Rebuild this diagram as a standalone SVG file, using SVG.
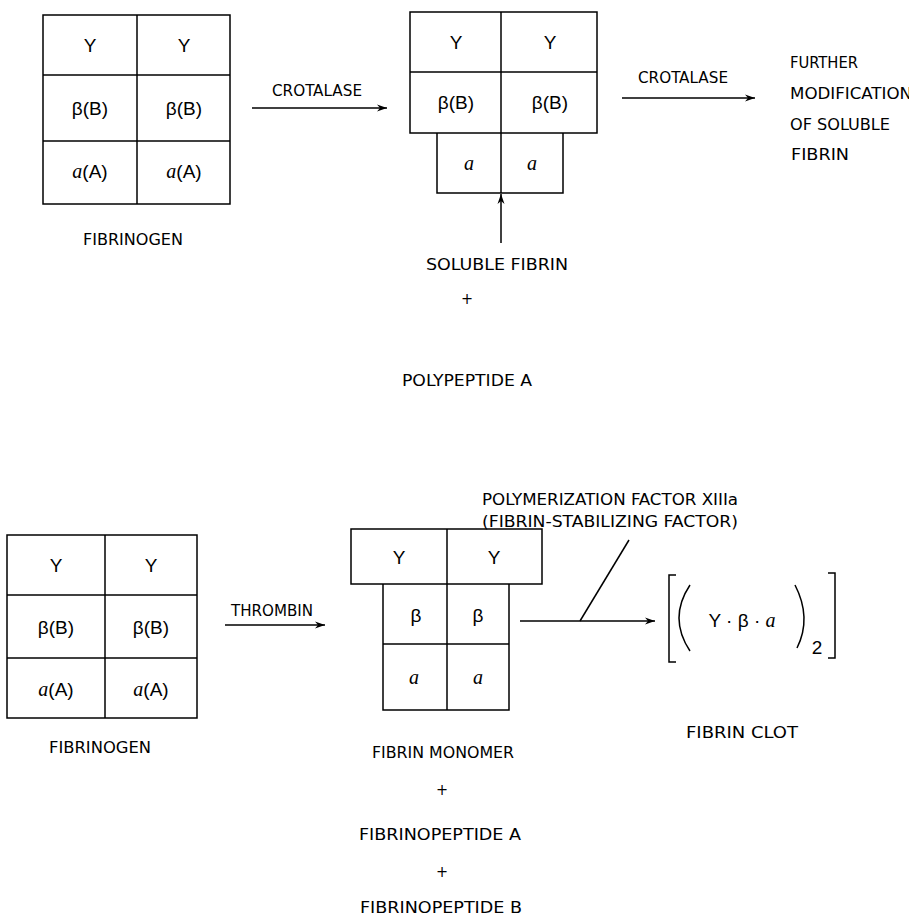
<svg xmlns="http://www.w3.org/2000/svg" width="909" height="917" viewBox="0 0 909 917">
<defs>
<marker id="ah" viewBox="0 0 10 10" refX="10" refY="5" markerWidth="10" markerHeight="10" markerUnits="userSpaceOnUse" orient="auto">
<path d="M0,1.5 L10,5 L0,8.5 L3,5 Z" fill="#000"/>
</marker>
<style>
.bx{fill:none;stroke:#000;stroke-width:1.5}
.ln{fill:none;stroke:#000;stroke-width:1.5}
.cl{font-family:"Liberation Sans",Arial,sans-serif;font-size:19px;text-anchor:middle;fill:#000}
.al{font-family:"Liberation Serif","Times New Roman",serif;font-style:italic;font-size:20px}
.lb{font-family:"DejaVu Sans Condensed","Liberation Sans Narrow","Liberation Sans",sans-serif;font-size:16px;fill:#000;text-anchor:middle}
.ll{font-family:"DejaVu Sans Condensed","Liberation Sans Narrow","Liberation Sans",sans-serif;font-size:16px;fill:#000}
</style>
</defs>
<rect width="909" height="917" fill="#fff"/>

<g id="fibrinogen-top">
<rect class="bx" x="43" y="15" width="187" height="189"/>
<line class="ln" x1="43" y1="75" x2="230" y2="75"/>
<line class="ln" x1="43" y1="141" x2="230" y2="141"/>
<line class="ln" x1="137" y1="15" x2="137" y2="204"/>
<text class="cl" x="90" y="52">Y</text>
<text class="cl" x="184" y="52">Y</text>
<text class="cl" x="90" y="115">β(B)</text>
<text class="cl" x="184" y="115">β(B)</text>
<text class="cl" x="90" y="178"><tspan class="al">a</tspan>(A)</text>
<text class="cl" x="184" y="178"><tspan class="al">a</tspan>(A)</text>
<text class="lb" x="133" y="245" textLength="100" lengthAdjust="spacingAndGlyphs">FIBRINOGEN</text>
</g>

<g id="soluble-fibrin">
<rect class="bx" x="410" y="12" width="187" height="121"/>
<line class="ln" x1="410" y1="72" x2="597" y2="72"/>
<line class="ln" x1="501" y1="12" x2="501" y2="193"/>
<polyline class="ln" points="437,133 437,193 563,193 563,133"/>
<text class="cl" x="456" y="49">Y</text>
<text class="cl" x="550" y="49">Y</text>
<text class="cl" x="456" y="109">β(B)</text>
<text class="cl" x="550" y="109">β(B)</text>
<text class="cl" x="469" y="170"><tspan class="al">a</tspan></text>
<text class="cl" x="532" y="170"><tspan class="al">a</tspan></text>
<text class="lb" x="497" y="270" textLength="142" lengthAdjust="spacingAndGlyphs">SOLUBLE FIBRIN</text>
</g>

<g id="further-modification">
<text class="ll" x="790" y="68" textLength="68" lengthAdjust="spacingAndGlyphs">FURTHER</text>
<text class="ll" x="790" y="99" textLength="122" lengthAdjust="spacingAndGlyphs">MODIFICATION</text>
<text class="ll" x="790" y="130" textLength="100" lengthAdjust="spacingAndGlyphs">OF SOLUBLE</text>
<text class="ll" x="791" y="160" textLength="58" lengthAdjust="spacingAndGlyphs">FIBRIN</text>
</g>

<g id="byproducts-top">
<text class="lb" x="467" y="304" font-size="17">+</text>
<text class="lb" x="467" y="386" textLength="130" lengthAdjust="spacingAndGlyphs">POLYPEPTIDE A</text>
</g>

<g id="fibrinogen-bottom">
<rect class="bx" x="7" y="535" width="190" height="183"/>
<line class="ln" x1="7" y1="595" x2="197" y2="595"/>
<line class="ln" x1="7" y1="658" x2="197" y2="658"/>
<line class="ln" x1="105" y1="535" x2="105" y2="718"/>
<text class="cl" x="56" y="572">Y</text>
<text class="cl" x="151" y="572">Y</text>
<text class="cl" x="56" y="634">β(B)</text>
<text class="cl" x="151" y="634">β(B)</text>
<text class="cl" x="56" y="696"><tspan class="al">a</tspan>(A)</text>
<text class="cl" x="151" y="696"><tspan class="al">a</tspan>(A)</text>
<text class="lb" x="100" y="753" textLength="102" lengthAdjust="spacingAndGlyphs">FIBRINOGEN</text>
</g>

<g id="fibrin-monomer">
<rect class="bx" x="351" y="529" width="191" height="55"/>
<line class="ln" x1="447" y1="529" x2="447" y2="710"/>
<polyline class="ln" points="383,584 383,710 509,710 509,584"/>
<line class="ln" x1="383" y1="644" x2="509" y2="644"/>
<text class="cl" x="399" y="564">Y</text>
<text class="cl" x="494" y="564">Y</text>
<text class="cl" x="416" y="622">β</text>
<text class="cl" x="478" y="622">β</text>
<text class="cl" x="414" y="684"><tspan class="al">a</tspan></text>
<text class="cl" x="478" y="684"><tspan class="al">a</tspan></text>
<text class="lb" x="443" y="758" textLength="142" lengthAdjust="spacingAndGlyphs">FIBRIN MONOMER</text>
<text class="lb" x="442" y="795" font-size="17">+</text>
<text class="lb" x="440" y="840" textLength="162" lengthAdjust="spacingAndGlyphs">FIBRINOPEPTIDE A</text>
<text class="lb" x="442" y="877" font-size="17">+</text>
<text class="lb" x="441" y="913" textLength="162" lengthAdjust="spacingAndGlyphs">FIBRINOPEPTIDE B</text>
</g>

<g id="polymerization-factor">
<text class="lb" x="610" y="505" textLength="256" lengthAdjust="spacingAndGlyphs">POLYMERIZATION FACTOR XIIIa</text>
<text class="lb" x="610" y="527" textLength="256" lengthAdjust="spacingAndGlyphs">(FIBRIN-STABILIZING FACTOR)</text>
</g>

<g id="fibrin-clot">
<path class="ln" d="M676,575 L669,575 L669,662 L676,662"/>
<path class="ln" d="M828,573 L835,573 L835,658 L828,658"/>
<path class="ln" d="M690,585 Q668,618 690,651"/>
<path class="ln" d="M795,585 Q812,618 797,648"/>
<text class="cl" x="742" y="627" font-size="18">Y · β · <tspan class="al">a</tspan></text>
<text class="cl" x="817" y="654">2</text>
<text class="lb" x="742" y="738" textLength="112" lengthAdjust="spacingAndGlyphs">FIBRIN CLOT</text>
</g>

<g id="connectors">
<line class="ln" x1="252" y1="108" x2="387" y2="108" marker-end="url(#ah)"/>
<text class="lb" x="317" y="96" textLength="90" lengthAdjust="spacingAndGlyphs">CROTALASE</text>
<line class="ln" x1="622" y1="98" x2="755" y2="98" marker-end="url(#ah)"/>
<text class="lb" x="683" y="83" textLength="90" lengthAdjust="spacingAndGlyphs">CROTALASE</text>
<line class="ln" x1="501" y1="243" x2="501" y2="194" marker-end="url(#ah)"/>
<line class="ln" x1="225" y1="625" x2="325" y2="625" marker-end="url(#ah)"/>
<text class="lb" x="272" y="616" textLength="82" lengthAdjust="spacingAndGlyphs">THROMBIN</text>
<line class="ln" x1="520" y1="621" x2="655" y2="621" marker-end="url(#ah)"/>
<line class="ln" x1="580" y1="621" x2="629" y2="540"/>
</g>
</svg>
